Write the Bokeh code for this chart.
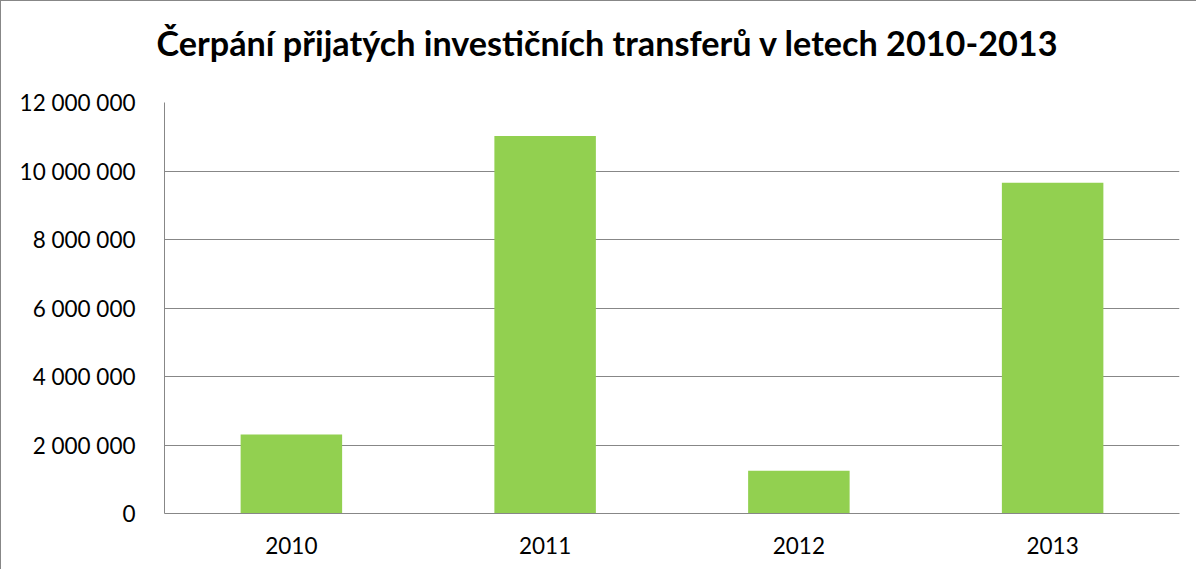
from bokeh.plotting import figure
from bokeh.models import FactorRange, Range1d, FixedTicker, ColumnDataSource, Title
from bokeh.embed import file_html
from bokeh.resources import INLINE

# ---- data ----
years = ["2010", "2011", "2012", "2013"]
values = [2310000, 11020000, 1250000, 9660000]
y_ticks = [0, 2000000, 4000000, 6000000, 8000000, 10000000, 12000000]
y_tick_labels = ["0", "2 000 000", "4 000 000", "6 000 000", "8 000 000", "10 000 000", "12 000 000"]
title_text = "Čerpání přijatých investičních transferů v letech 2010-2013"

FONT = "Lato"
GRAY = "#878787"

source = ColumnDataSource(data=dict(years=years, values=values))

p = figure(
    x_range=FactorRange(*years, range_padding=0),
    y_range=Range1d(0, 12000000),
    width=1196, height=569,
    output_backend="svg", toolbar_location=None,
    min_border_left=163, min_border_right=18,
    min_border_top=101, min_border_bottom=57,
)
p.title_location = None
p.styles = {"border-top": "1px solid #878787", "border-left": "1px solid #878787"}

# spacer between frame and title, then the title itself
spacer = Title(text=" ", text_font_size="2px", standoff=31)
p.add_layout(spacer, "above")
title = Title(text=title_text, text_font=FONT, text_font_style="bold",
              text_font_size="34.2px", text_color="black",
              align="left", offset=-8, standoff=10)
p.add_layout(title, "above")

p.vbar(x="years", top="values", width=0.4, source=source,
       fill_color="#92D050", line_color=None)

p.outline_line_color = None
p.xgrid.grid_line_color = None
p.ygrid.grid_line_color = GRAY
p.ygrid.grid_line_width = 1

ticker = FixedTicker(ticks=y_ticks)
p.yaxis.ticker = ticker
p.ygrid.ticker = ticker
p.yaxis.major_label_overrides = {t: l for t, l in zip(y_ticks, y_tick_labels)}

for ax in (p.xaxis, p.yaxis):
    ax.axis_line_color = GRAY
    ax.axis_line_width = 1
    ax.major_tick_line_color = None
    ax.minor_tick_line_color = None
    ax.major_label_text_font = FONT
    ax.major_label_text_font_size = "22.5px"
    ax.major_label_text_color = "black"

p.yaxis.major_label_standoff = 23
p.xaxis.major_label_standoff = 17

open("out.html", "w").write(file_html(p, INLINE))
